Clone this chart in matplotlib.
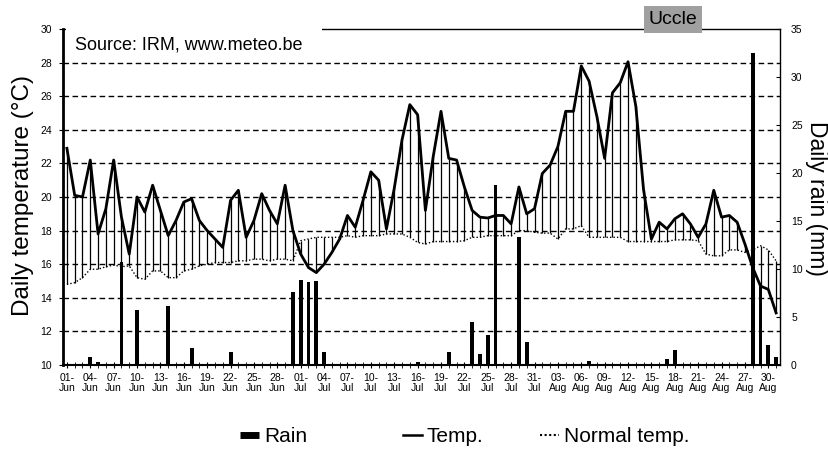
import matplotlib
matplotlib.use('Agg')
import matplotlib.pyplot as plt
from matplotlib.patches import Rectangle
from matplotlib.lines import Line2D
import numpy as np
import pandas as pd

plt.rcParams['font.family'] = ['Liberation Sans', 'DejaVu Sans']

# days 01-Jun .. 31-Aug
dates = pd.date_range('2006-06-01', '2006-08-31', freq='D')

# daily temperature (C)
temp_jun = [22.9, 20.1, 20.0, 22.2, 17.8, 19.3, 22.2, 18.8, 16.6, 20.0,
            19.1, 20.7, 19.2, 17.7, 18.6, 19.7, 19.9, 18.6, 18.0, 17.5,
            17.0, 19.8, 20.4, 17.6, 18.6, 20.2, 19.2, 18.4, 20.7, 18.0]
temp_jul = [16.6, 15.8, 15.5, 16.0, 16.7, 17.5, 18.9, 18.2, 19.8, 21.5,
            21.0, 18.1, 20.5, 23.4, 25.5, 24.9, 19.2, 22.4, 25.1, 22.3,
            22.2, 20.6, 19.2, 18.8, 18.75, 18.9, 18.9, 18.4, 20.6, 19.0,
            19.3]
temp_aug = [21.4, 21.9, 23.0, 25.1, 25.1, 27.8, 26.9, 24.8, 22.3, 26.2,
            26.8, 28.05, 25.4, 20.4, 17.5, 18.5, 18.1, 18.7, 19.0, 18.4,
            17.6, 18.4, 20.4, 18.8, 18.9, 18.5, 17.2, 15.8, 14.7, 14.5,
            13.1]

# normal temperature (C)
normal_jun = [14.8, 14.9, 15.2, 15.7, 15.7, 15.85, 15.95, 15.85, 15.9, 15.2,
              15.1, 15.6, 15.6, 15.2, 15.2, 15.6, 15.7, 15.9, 16.0, 16.1,
              16.1, 16.1, 16.2, 16.2, 16.3, 16.3, 16.2, 16.3, 16.3, 16.2]
normal_jul = [17.4, 17.5, 17.6, 17.6, 17.6, 17.6, 17.7, 17.6, 17.7, 17.7,
              17.7, 17.8, 17.8, 17.8, 17.6, 17.3, 17.2, 17.35, 17.35, 17.35,
              17.35, 17.4, 17.6, 17.6, 17.7, 17.7, 17.7, 17.7, 18.0, 18.0,
              17.9]
normal_aug = [17.85, 17.85, 17.5, 18.1, 18.1, 18.3, 17.6, 17.6, 17.6, 17.6,
              17.6, 17.35, 17.35, 17.35, 17.35, 17.35, 17.35, 17.45, 17.45, 17.45,
              17.4, 16.6, 16.5, 16.5, 16.85, 16.85, 16.7, 16.85, 17.1, 16.85,
              16.2]

# daily rain (mm)
rain_jun = [0, 0, 0, 0.8, 0.3, 0, 0, 10.7, 0, 5.7,
            0, 0, 0, 6.1, 0, 0, 1.8, 0, 0, 0,
            0, 1.35, 0, 0, 0, 0, 0, 0, 0, 7.6]
rain_jul = [8.9, 8.6, 8.7, 1.4, 0, 0, 0, 0, 0, 0,
            0, 0, 0, 0, 0, 0.3, 0, 0, 0, 1.4,
            0, 0, 4.5, 1.1, 3.1, 18.7, 0, 0, 13.3, 2.4,
            0]
rain_aug = [0, 0, 0, 0, 0, 0, 0.4, 0, 0, 0,
            0, 0, 0, 0, 0, 0, 0.6, 1.6, 0, 0,
            0, 0, 0, 0, 0, 0, 0, 32.5, 8.5, 2.1,
            0.8]

temp = np.array(temp_jun + temp_jul + temp_aug)
normal = np.array(normal_jun + normal_jul + normal_aug)
rain = np.array(rain_jun + rain_jul + rain_aug)
x = np.arange(len(dates))

fig = plt.figure(figsize=(8.29, 4.57), dpi=100)
fig.patch.set_facecolor('white')
ax = fig.add_axes([63/829, 92/457, 717/829, 336/457])
ax2 = ax.twinx()
ax.set_zorder(ax2.get_zorder() + 1)
ax.patch.set_visible(False)

# rain bars on the right axis
ax2.bar(x, rain, width=0.5, color='black', zorder=3)
ax2.set_ylim(0, 35)
ax2.set_yticks(range(0, 36, 5))
ax2.tick_params(axis='y', direction='in', length=3, labelsize=7.5, pad=8)
for s in ax2.spines.values():
    s.set_visible(False)

# dashed grid
for v in range(12, 30, 2):
    ax.axhline(v, color='black', lw=1, ls=(0, (4, 2.5)), zorder=1)

# lines from temp to normal, then the two series
ax.vlines(x, np.minimum(temp, normal), np.maximum(temp, normal), color='black', lw=0.9, zorder=2)
ax.plot(x, normal, color='black', lw=1, ls=(0, (1, 1.5)), zorder=2)
ax.plot(x, temp, color='black', lw=2, zorder=4)

ax.set_xlim(-0.5, len(x) - 0.5)
ax.set_ylim(10, 30)
ax.set_yticks(range(10, 31, 2))
ax.tick_params(axis='y', direction='out', length=3, labelsize=7.5, pad=5)
ax.set_xticks(x[::3])
ax.set_xticklabels([d.strftime('%d-\n%b') for d in dates[::3]], fontsize=7.5, linespacing=1.1)
ax.set_xticks(x, minor=True)
ax.tick_params(axis='x', which='both', direction='inout', length=5, pad=3)

ax.spines['left'].set_linewidth(2)
ax.spines['bottom'].set_linewidth(1.5)
ax.spines['top'].set_linewidth(1)
ax.spines['right'].set_linewidth(1)

# white box hides the top frame behind the source note
ax.add_patch(Rectangle((0.004, 0.99), 0.357, 0.03, transform=ax.transAxes,
                       facecolor='white', edgecolor='none', clip_on=False, zorder=5))
ax.text(0.017, 0.978, 'Source: IRM, www.meteo.be', transform=ax.transAxes,
        fontsize=13, ha='left', va='top', zorder=6)

fig.text(0.812, 0.958, 'Uccle', fontsize=14, ha='center', va='center',
         bbox=dict(boxstyle='square,pad=0.25', facecolor='#a0a0a0', edgecolor='none'))

fig.text(0.028, 0.572, 'Daily temperature (°C)', rotation=90, fontsize=17.5, ha='center', va='center')
fig.text(0.985, 0.565, 'Daily rain (mm)', rotation=270, fontsize=16.5, ha='center', va='center')

# legend entries placed separately
entries = [
    (Line2D([], [], color='black', lw=5, solid_capstyle='butt'), 'Rain', 240),
    (Line2D([], [], color='black', lw=1.8), 'Temp.', 403),
    (Line2D([], [], color='black', lw=1.5, ls=(0, (1, 1.2))), 'Normal temp.', 540),
]
for h, lab, px in entries:
    fig.legend(handles=[h], labels=[lab], loc='center left',
               bbox_to_anchor=(px/829, 1 - 437/457), frameon=False, fontsize=15,
               handlelength=0.9, handletextpad=0.25, borderpad=0, borderaxespad=0)

fig.savefig('out.png', dpi=100)
